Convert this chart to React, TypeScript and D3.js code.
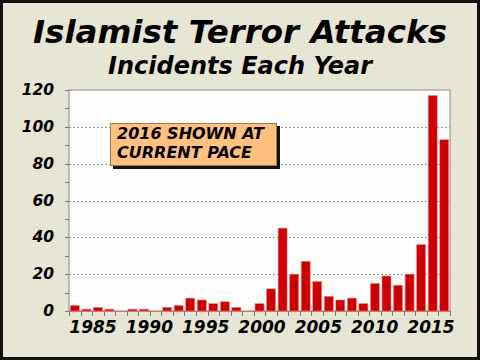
import React from 'react';
import * as d3 from 'd3';

const years = [
  1984, 1985, 1986, 1987, 1988, 1989, 1990, 1991, 1992, 1993, 1994,
  1995, 1996, 1997, 1998, 1999, 2000, 2001, 2002, 2003, 2004, 2005,
  2006, 2007, 2008, 2009, 2010, 2011, 2012, 2013, 2014, 2015, 2016,
];
const incidents = [
  3, 1, 2, 1, 0, 1, 1, 0, 2, 3, 7,
  6, 4, 5, 2, 0, 4, 12, 45, 20, 27, 16,
  8, 6, 7, 4, 15, 19, 14, 20, 36, 117, 93,
];
const yTicks = [0, 20, 40, 60, 80, 100, 120];
const xLabels = [1985, 1990, 1995, 2000, 2005, 2010, 2015];
const noteLines = ['2016 SHOWN AT', 'CURRENT PACE'];

const W = 480;
const H = 360;
const plot = { left: 69, right: 450, top: 90, bottom: 311 };
const font = '"DejaVu Sans", Verdana, sans-serif';

export default function App() {
  const x = d3.scaleBand<number>()
    .domain(years)
    .range([plot.left, plot.right])
    .paddingInner(0.22)
    .paddingOuter(0.11);
  const step = x.step();
  const y = d3.scaleLinear().domain([0, 120]).range([plot.bottom, plot.top]);
  // las etiquetas del eje no caen justo bajo las barras en el original
  const xl = d3.scaleLinear().domain([1985, 2015]).range([93, 431]);
  const minorTicks = d3.range(0, 121, 10);

  return (
    <svg width={W} height={H} style={{ position: 'absolute', left: 0, top: 0 }}>
      <defs>
        <pattern id="dots" width="4" height="4" patternUnits="userSpaceOnUse">
          <rect width="4" height="4" fill="#e6e5d3" />
          <rect x="1" y="1" width="1" height="1" fill="#f3eeea" />
        </pattern>
      </defs>
      {/* fondo */}
      <rect x={1.5} y={1.5} width={W - 3} height={H - 3} fill="url(#dots)" stroke="#111" strokeWidth={3} />

      <text x={240} y={43} textAnchor="middle" fontFamily={font} fontWeight="bold"
        fontStyle="italic" fontSize={32.5} fill="#000">Islamist Terror Attacks</text>
      <text x={240} y={74} textAnchor="middle" fontFamily={font} fontWeight="bold"
        fontStyle="italic" fontSize={24} fill="#000">Incidents Each Year</text>

      {/* area del grafico */}
      <rect x={plot.left} y={plot.top} width={plot.right - plot.left}
        height={plot.bottom - plot.top} fill="#fefefc" stroke="#888" strokeWidth={1} />

      {yTicks.slice(1, -1).map(t => (
        <line key={t} x1={plot.left} x2={plot.right} y1={Math.round(y(t)) + 0.5} y2={Math.round(y(t)) + 0.5}
          stroke="#999" strokeDasharray="2,2" />
      ))}

      {minorTicks.map(t => (
        <line key={t} x1={plot.left - 4} x2={plot.left} y1={Math.round(y(t)) + 0.5} y2={Math.round(y(t)) + 0.5}
          stroke="#777" />
      ))}

      {yTicks.map(t => (
        <text key={t} x={54} y={y(t) + 5} textAnchor="end" fontFamily={font} fontWeight="bold"
          fontStyle="italic" fontSize={15.5} fill="#000">{t}</text>
      ))}

      {/* barras */}
      {years.map((yr, i) => (
        <rect key={yr} x={x(yr)} y={y(incidents[i])} width={x.bandwidth()}
          height={plot.bottom - y(incidents[i])} fill="#cc0000" stroke="#ee8888" strokeWidth={0.6} />
      ))}

      <line x1={plot.left} x2={plot.right} y1={plot.bottom + 0.5} y2={plot.bottom + 0.5} stroke="#e07070" />

      {d3.range(years.length + 1).map(i => {
        const tx = Math.round(plot.left + i * step) + 0.5;
        return <line key={i} x1={tx} x2={tx} y1={plot.bottom} y2={plot.bottom + 5} stroke="#777" />;
      })}

      {xLabels.map(yr => (
        <text key={yr} x={xl(yr)} y={333} textAnchor="middle" fontFamily={font}
          fontWeight="bold" fontStyle="italic" fontSize={17} fill="#000">{yr}</text>
      ))}

      {/* nota */}
      <rect x={113} y={126} width={167} height={43} fill="#111" />
      <rect x={110.5} y={123.5} width={166} height={42} fill="#ffc080" stroke="#9a7a50" />
      {noteLines.map((l, i) => (
        <text key={l} x={117} y={139 + i * 19} fontFamily={font} fontWeight="bold" fontStyle="italic"
          fontSize={16} fill="#000">{l}</text>
      ))}
    </svg>
  );
}
